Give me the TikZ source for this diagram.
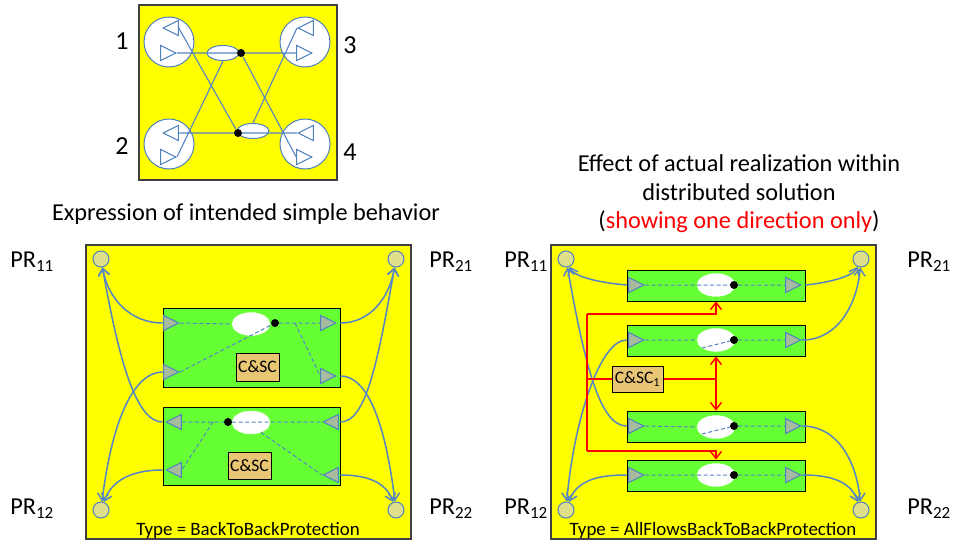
\documentclass[tikz,border=0pt]{standalone}
\usepackage{xcolor}
\usepackage{fontspec}
\setmainfont{Carlito}
\usetikzlibrary{shapes, positioning, arrows.meta}
\definecolor{panelyellow}{HTML}{FFFF00}
\definecolor{boxgreen}{HTML}{66FF33}
\definecolor{wireblue}{HTML}{4F81BD}
\definecolor{lineblue}{HTML}{5585C5}
\definecolor{prfill}{HTML}{E0E08A}
\definecolor{trifill}{HTML}{A6BC9C}
\definecolor{ctrlfill}{HTML}{E8C674}
\tikzset{
    panel/.style={rectangle, draw=black!75, line width=1.3pt, fill=panelyellow, inner sep=0},
    port/.style={circle, draw=wireblue, line width=1pt, fill=white, inner sep=0, minimum width=50, minimum height=50},
    opentri/.style={isosceles triangle, isosceles triangle stretches, draw=wireblue, line width=1pt, fill=white, inner sep=0, minimum width=15, minimum height=15, anchor=apex},
    tri/.style={opentri, fill=trifill},
    leftward/.style={shape border rotate=180},
    hole/.style={ellipse, fill=white, draw=white!85!boxgreen, inner sep=0, minimum width=38, minimum height=23},
    smallhole/.style={ellipse, fill=white, draw=wireblue, line width=1pt, inner sep=0, minimum width=32, minimum height=15},
    dot/.style={circle, fill=black, inner sep=0, minimum size=8},
    pr/.style={circle, draw=wireblue, line width=1pt, fill=prfill, inner sep=0, minimum size=16},
    greenbox/.style={rectangle, draw=black, line width=.9pt, fill=boxgreen, inner sep=0, minimum width=177},
    ctrl/.style={rectangle, draw=black, line width=1pt, fill=ctrlfill, inner sep=0, font=\fontsize{17.5}{20}\selectfont},
    caption/.style={inner sep=0, align=center, font=\fontsize{24.3}{28.5}\selectfont},
    numtext/.style={inner sep=0, font=\fontsize{26}{30}\selectfont},
    typetext/.style={inner sep=0, font=\fontsize{18.9}{22}\selectfont},
    wire/.style={draw=lineblue, line width=1.1pt},
    flow/.style={draw=lineblue, line width=1pt, dashed, dash pattern=on 4pt off 2.5pt},
    link/.style={draw=lineblue, line width=1.5pt, -{Straight Barb[length=7pt,width=11pt]}},
    redlink/.style={draw=red, line width=1.4pt},
    redarrow/.style={redlink, -{Straight Barb[length=7pt,width=11pt]}}
}
\begin{document}
\begin{tikzpicture}[x=1pt, y=-1pt]
    \useasboundingbox (0, 0) rectangle (953, 544);

    \node[panel, minimum width=198, minimum height=175] (top) at (238, 92.5) {};
    \node[panel, minimum width=325, minimum height=294] (leftpanel) at (248.5, 392) {};
    \node[panel, minimum width=325, minimum height=294] (rightpanel) at (713.5, 392) {};

    \node[port] (port1) at (169, 42) {};
    \node[port] (port2) at (169, 144) {};
    \node[port] (port3) at (305, 42) {};
    \node[port] (port4) at (305, 144) {};
    \node[opentri, leftward] (in1) at (162, 28) {};
    \node[opentri] (out1) at (177, 53) {};
    \node[opentri, leftward] (in2) at (162, 133) {};
    \node[opentri] (out2) at (177, 157) {};
    \node[opentri, leftward] (in3) at (297, 28) {};
    \node[opentri] (out3) at (313, 53) {};
    \node[opentri, leftward] (in4) at (297, 133) {};
    \node[opentri] (out4) at (313, 157) {};
    \node[smallhole] (sel1) at (223, 53) {};
    \node[smallhole] (sel2) at (253, 131) {};
    \node[dot] (dot1) at (241, 53) {};
    \node[dot] (dot2) at (238, 133) {};

    \draw[wire] (out1.apex) to (dot1)
        (dot1) to (out3.lower side)
        (in2.lower side) to (dot2)
        (dot2) to (in4.apex)
        (in1.lower side) to (dot2)
        (out2.apex) to (sel1.south)
        (in3.apex) to (sel2.north)
        (dot1) to (out4.lower side);

    \node[numtext] (num1) at (122, 41) {1};
    \node[numtext] (num2) at (122, 146) {2};
    \node[numtext] (num3) at (350, 45) {3};
    \node[numtext] (num4) at (350, 152) {4};

    \node[caption] (leftcaption) at (246, 214.5) {Expression of intended simple behavior};
    \node[caption] (rightcaption) at (739, 194) {Effect of actual realization within\\distributed solution\\(\textcolor{red}{showing one direction only})};

    \node[pr] (a11) at (101, 259) {};
    \node[pr] (a21) at (396, 259) {};
    \node[pr] (a12) at (101, 510) {};
    \node[pr] (a22) at (396, 510) {};
    \node[caption] (a11text) at (32, 262) {PR\textsubscript{11}};
    \node[caption] (a12text) at (32, 508.5) {PR\textsubscript{12}};
    \node[caption] (a21text) at (451, 262) {PR\textsubscript{21}};
    \node[caption] (a22text) at (451, 508.5) {PR\textsubscript{22}};

    \node[greenbox, minimum height=79] (upper) at (251.5, 347.5) {};
    \node[greenbox, minimum height=78] (lower) at (251.5, 446) {};

    \node[tri] (ua) at (180, 323) {};
    \node[tri] (ub) at (180, 372) {};
    \node[tri] (uc) at (337, 323) {};
    \node[tri] (ud) at (337, 376) {};
    \node[hole] (uhole) at (251, 324) {};
    \node[dot] (udot) at (275, 323) {};
    \node[tri, leftward] (la) at (165, 422) {};
    \node[tri, leftward] (lb) at (165, 470) {};
    \node[tri, leftward] (lc) at (322, 422) {};
    \node[tri, leftward] (ld) at (322, 475) {};
    \node[hole] (lhole) at (251, 422.5) {};
    \node[dot] (ldot) at (228, 422) {};
    \node[ctrl, minimum width=43, minimum height=28] (ucs) at (257.5, 367) {C\&SC};
    \node[ctrl, minimum width=43, minimum height=27] (lcs) at (249.5, 465.5) {C\&SC};
    \coordinate (ufork) at (295, 323);
    \coordinate (lfork) at (213, 422);

    \draw[flow] (ua.apex) to (uhole.west)
        (udot) to (uc.lower side)
        (ufork) to (ud.lower side)
        (ub.apex) to (udot)
        (la.lower side) to (ldot)
        (ldot) to (lc.apex)
        (lfork) to (lb.lower side)
        (lhole.-45) to (ld.apex);

    \draw[link] (upper.west |- ua.apex) to[out=180, in=-80] (a11);
    \draw[link] (upper.east |- uc.apex) to[out=0, in=-100] (a21);
    \draw[link] (upper.west |- ub.apex) to[out=180, in=83, out looseness=.5, in looseness=1.5] (a12);
    \draw[link] (upper.east |- ud.apex) to[out=0, in=97, out looseness=.5, in looseness=1.5] (a22);
    \draw[link] (lower.west |- la.apex) to[out=180, in=-80, out looseness=.4, in looseness=1.5] (a11);
    \draw[link] (lower.east |- lc.apex) to[out=0, in=-100, out looseness=.4, in looseness=1.5] (a21);
    \draw[link] (lower.west |- lb.apex) to[out=180, in=70] (a12);
    \draw[link] (lower.east |- ld.apex) to[out=0, in=110] (a22);

    \node[typetext] (lefttype) at (248, 530) {Type = BackToBackProtection};

    \node[pr] (b11) at (566, 259) {};
    \node[pr] (b21) at (861, 259) {};
    \node[pr] (b12) at (566, 510) {};
    \node[pr] (b22) at (861, 510) {};
    \node[caption] (b11text) at (526, 262) {PR\textsubscript{11}};
    \node[caption] (b12text) at (526, 508.5) {PR\textsubscript{12}};
    \node[caption] (b21text) at (929, 262) {PR\textsubscript{21}};
    \node[caption] (b22text) at (929, 508.5) {PR\textsubscript{22}};

    \node[greenbox, minimum width=178, minimum height=31] (row1) at (716, 285.5) {};
    \node[greenbox, minimum width=178, minimum height=31] (row2) at (716, 340.5) {};
    \node[greenbox, minimum width=178, minimum height=31] (row3) at (716, 426.5) {};
    \node[greenbox, minimum width=178, minimum height=31] (row4) at (716, 475.5) {};

    \node[tri] (in11) at (645, 285) {};
    \node[tri] (out11) at (802, 285) {};
    \node[hole] (hole1) at (716, 285) {};
    \node[dot] (dot11) at (734, 285) {};
    \node[tri] (in12) at (645, 340) {};
    \node[tri] (out12) at (802, 340) {};
    \node[hole] (hole2) at (716, 340) {};
    \node[dot] (dot12) at (734, 340) {};
    \node[tri] (in13) at (645, 426) {};
    \node[tri] (out13) at (802, 426) {};
    \node[hole] (hole3) at (716, 427) {};
    \node[dot] (dot13) at (734, 426) {};
    \node[tri] (in14) at (645, 475) {};
    \node[tri] (out14) at (802, 475) {};
    \node[hole] (hole4) at (716, 475) {};
    \node[dot] (dot14) at (734, 475) {};

    \coordinate (tail2) at (702, 348);
    \coordinate (tail3) at (702, 434);

    \draw[flow] (in11.apex) to (dot11)
        (dot11) to (out11.lower side)
        (in12.apex) to (hole2.west)
        (tail2) to (dot12)
        (dot12) to (out12.lower side)
        (in13.apex) to (hole3.west)
        (tail3) to (dot13)
        (dot13) to (out13.lower side)
        (in14.apex) to (dot14)
        (dot14) to (out14.lower side);

    \draw[link] (row1.west |- in11.apex) to[out=175, in=-65, looseness=.6] (b11);
    \draw[link] (row1.east |- out11.apex) to[out=5, in=-115, looseness=.6] (b21);
    \draw[link] (row2.west |- in12.apex) to[out=180, in=85, out looseness=.4, in looseness=1.2] (b12);
    \draw[link] (out12.apex) to[out=0, in=-95] (b21);
    \draw[link] (row3.west |- in13.apex) to[out=180, in=-80, out looseness=.4, in looseness=1.5] (b11);
    \draw[link] (out13.apex) to[out=0, in=95] (b22);
    \draw[link] (row4.west |- in14.apex) to[out=180, in=70] (b12);
    \draw[link] (out14.apex) to[out=0, in=110] (b22);

    \node[ctrl, minimum width=51, minimum height=26] (cs1) at (637.5, 379) {C\&SC\textsubscript{1}};
    \coordinate (redtop) at (587, 314);
    \coordinate (redbottom) at (587, 451);
    \coordinate (redfork) at (716, 379);

    \draw[redlink] (cs1.west) to (cs1.west -| redtop)
        (redtop) to (redbottom)
        (cs1.east) to (redfork);
    \draw[redarrow] (redtop) -| (row1.south);
    \draw[redarrow] (redbottom) -| (row4.north);
    \draw[redarrow] (redfork) to (row2.south);
    \draw[redarrow] (redfork) to (row3.north);

    \node[typetext] (righttype) at (713, 530) {Type = AllFlowsBackToBackProtection};
\end{tikzpicture}
\end{document}
